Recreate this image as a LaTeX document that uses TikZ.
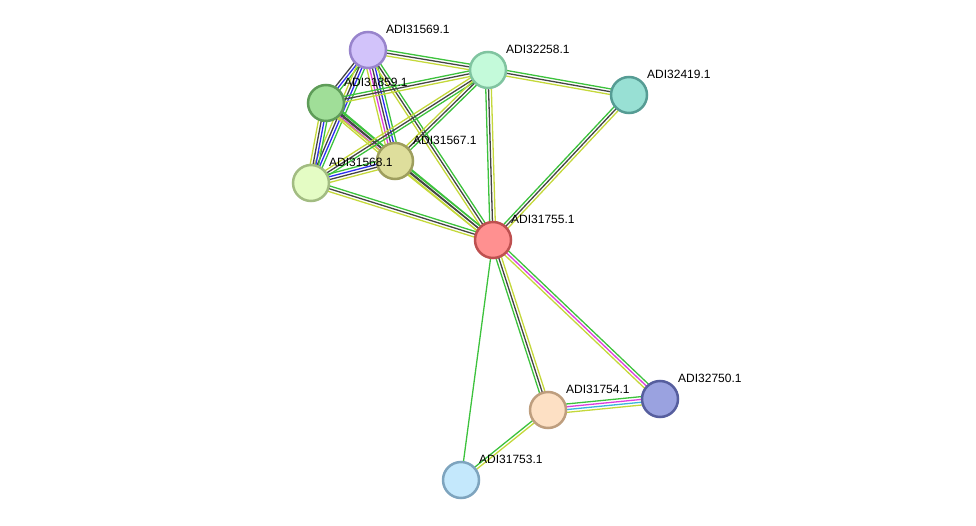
\documentclass[tikz,border=0pt]{standalone}
\usepackage{fontspec}
\setmainfont{Liberation Sans}
\usetikzlibrary{calc,backgrounds}
\definecolor{eg}{HTML}{3CC23C}
\definecolor{ey}{HTML}{C4D83A}
\definecolor{ek}{HTML}{444444}
\definecolor{eb}{HTML}{2E2EF0}
\definecolor{em}{HTML}{DD3EDD}
\definecolor{ec}{HTML}{3CB4DC}
\tikzset{
  prot/.style={circle, draw, line width=2.5pt, minimum size=36pt, inner sep=0pt},
  lbl/.style={anchor=west, inner sep=0pt, font=\fontsize{12pt}{14pt}\selectfont},
  eline/.style={line width=1.3pt},
}
\newcommand\sedge[3]{%
  \foreach \c [count=\i] in {#3} {\xdef\ncnt{\i}}%
  \foreach \c [count=\i] in {#3} {%
    \pgfmathsetmacro\off{((\ncnt+1)/2-\i)*2.8}%
    \draw[eline, draw=\c] ($(#1.center)!\off pt!90:(#2.center)$) -- ($(#2.center)!\off pt!-90:(#1.center)$);
  }%
}
\begin{document}
\begin{tikzpicture}[x=1pt,y=-1pt]
\useasboundingbox (0,0) rectangle (976,526);
\node[prot, fill={rgb,255:red,210;green,195;blue,250}, draw={rgb,255:red,152;green,132;blue,204}] (a) at (368,50) {};
\node[prot, fill={rgb,255:red,196;green,250;blue,218}, draw={rgb,255:red,128;green,196;blue,160}] (b) at (488,70) {};
\node[prot, fill={rgb,255:red,152;green,224;blue,212}, draw={rgb,255:red,86;green,156;blue,148}] (c) at (629,95) {};
\node[prot, fill={rgb,255:red,160;green,222;blue,152}, draw={rgb,255:red,94;green,156;blue,88}] (d) at (326,103) {};
\node[prot, fill={rgb,255:red,222;green,222;blue,156}, draw={rgb,255:red,158;green,158;blue,94}] (e) at (395,161) {};
\node[prot, fill={rgb,255:red,228;green,252;blue,196}, draw={rgb,255:red,162;green,188;blue,130}] (f) at (311,183) {};
\node[prot, fill={rgb,255:red,255;green,144;blue,144}, draw={rgb,255:red,190;green,80;blue,80}] (g) at (493,240) {};
\node[prot, fill={rgb,255:red,253;green,224;blue,196}, draw={rgb,255:red,190;green,158;blue,126}] (h) at (548,410) {};
\node[prot, fill={rgb,255:red,154;green,162;blue,224}, draw={rgb,255:red,86;green,94;blue,158}] (i) at (660,399) {};
\node[prot, fill={rgb,255:red,196;green,232;blue,252}, draw={rgb,255:red,126;green,164;blue,190}] (j) at (461,480) {};
\node[lbl] (la) at ($(a)+(18,-21)$) {ADI31569.1};
\node[lbl] (lb) at ($(b)+(18,-21)$) {ADI32258.1};
\node[lbl] (lc) at ($(c)+(18,-21)$) {ADI32419.1};
\node[lbl] (ld) at ($(d)+(18,-21)$) {ADI31859.1};
\node[lbl] (le) at ($(e)+(18,-21)$) {ADI31567.1};
\node[lbl] (lf) at ($(f)+(18,-21)$) {ADI31568.1};
\node[lbl] (lg) at ($(g)+(18,-21)$) {ADI31755.1};
\node[lbl] (lh) at ($(h)+(18,-21)$) {ADI31754.1};
\node[lbl] (li) at ($(i)+(18,-21)$) {ADI32750.1};
\node[lbl] (lj) at ($(j)+(18,-21)$) {ADI31753.1};
\begin{pgfonlayer}{background}
\sedge{a}{b}{eg,ek,ey}
\sedge{a}{d}{eg,eb,ek}
\sedge{a}{f}{eg,eb,ek,ey}
\sedge{a}{e}{eg,eb,ek,em,ey}
\sedge{a}{g}{eg,ek,ey}
\sedge{d}{b}{eg,ek,ey}
\sedge{d}{e}{eg,ek,em,ey}
\sedge{d}{f}{eg,eb,ek,ey}
\sedge{d}{g}{eg,ek,ey}
\sedge{b}{f}{eg,ek,ey}
\sedge{b}{e}{eg,ek,ey}
\sedge{g}{b}{eg,ek,ey}
\sedge{b}{c}{eg,ek,ey}
\sedge{g}{c}{eg,ek,ey}
\sedge{f}{e}{eg,eb,ek,ey}
\sedge{f}{g}{eg,ek,ey}
\sedge{e}{g}{eg,ek,ey}
\sedge{h}{g}{eg,ek,ey}
\sedge{g}{i}{eg,em,ey}
\sedge{g}{j}{eg}
\sedge{h}{i}{eg,em,ec,ey}
\sedge{j}{h}{eg,ey}
\end{pgfonlayer}
\end{tikzpicture}
\end{document}
